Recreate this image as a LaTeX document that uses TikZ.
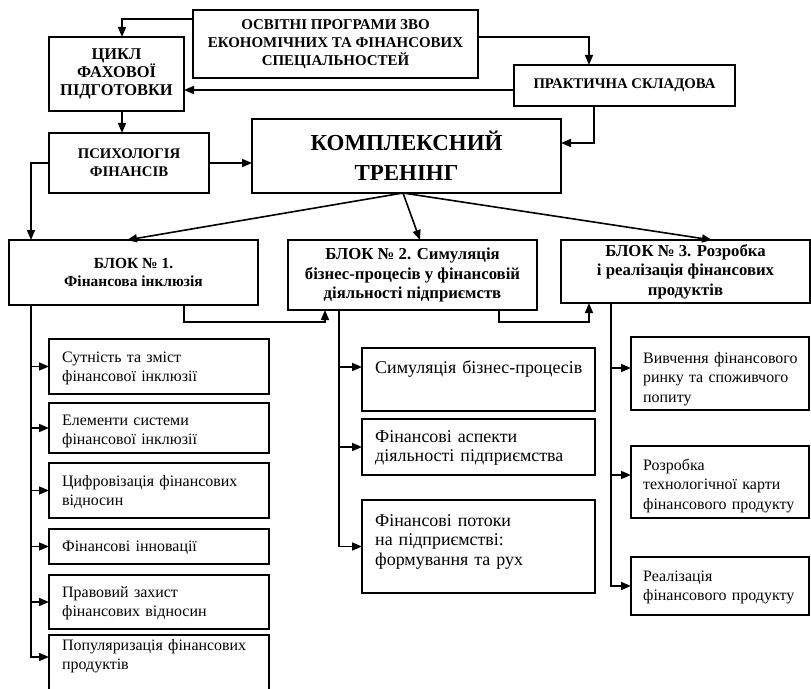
\documentclass[tikz,border=0pt]{standalone}
\usepackage{fontspec}
\setmainfont{Liberation Serif}
\usetikzlibrary{arrows.meta,calc}
\begin{document}
\begin{tikzpicture}[x=1bp,y=-1bp,
  box/.style={draw, line width=2bp, inner sep=0pt, outer sep=0pt, align=center},
  cbox/.style={box, anchor=north west},
  capsA/.style={font=\bfseries\fontsize{14.8}{18}\selectfont},
  capsB/.style={font=\bfseries\fontsize{16.5}{18.2}\selectfont},
  capsT/.style={font=\bfseries\fontsize{15}{18}\selectfont},
  bigf/.style={font=\bfseries\fontsize{23}{30}\selectfont},
  blkA/.style={font=\bfseries\fontsize{15.5}{18}\selectfont},
  blkB/.style={font=\bfseries\fontsize{16.8}{19.5}\selectfont},
  itxt/.style={anchor=base west, inner sep=0pt, align=left, font=\fontsize{16}{20}\selectfont},
  mtxt/.style={itxt, font=\fontsize{18}{20}\selectfont},
  conn/.style={line width=1.6bp},
  arr/.style={conn, -{Triangle[length=10bp,width=8bp]}}
]
\useasboundingbox (0,0) rectangle (811,689);
\clip (0,0) rectangle (811,689);

% upper boxes
\node[box, capsT, minimum width=285bp, minimum height=68bp] (top) at (335.5,44) {ОСВІТНІ ПРОГРАМИ ЗВО\\ЕКОНОМІЧНИХ ТА ФІНАНСОВИХ\\СПЕЦІАЛЬНОСТЕЙ};
\node[box, capsB, minimum width=135bp, minimum height=74bp] (cycle) at (116.5,74) {ЦИКЛ\\ФАХОВОЇ\\ПІДГОТОВКИ};
\node[box, capsA, minimum width=160bp, minimum height=60bp] (psych) at (129,163) {ПСИХОЛОГІЯ\\ФІНАНСІВ};
\node[box, capsA, minimum width=221bp, minimum height=41bp] (prak) at (624.5,85.5) {ПРАКТИЧНА СКЛАДОВА};
\node[box, bigf, minimum width=309bp, minimum height=74bp] (kompl) at (406.5,156) {КОМПЛЕКСНИЙ\\ТРЕНІНГ};

% blocks
\node[box, blkA, minimum width=249bp, minimum height=65bp] (b1) at (133.5,272.5) {БЛОК № 1.\\Фінансова інклюзія};
\node[box, blkB, minimum width=249bp, minimum height=70bp] (b2) at (412.5,275) {БЛОК № 2. Симуляція\\бізнес-процесів у фінансовій\\діяльності підприємств};
\node[box, blkB, minimum width=249bp, minimum height=63bp] (b3) at (685.5,271.5) {БЛОК № 3. Розробка\\і реалізація фінансових\\продуктів};

% block 1 children
\node[cbox, minimum width=220bp, minimum height=55bp] (c11) at (49,339) {};
\node[cbox, minimum width=220bp, minimum height=50bp] (c12) at (49,403) {};
\node[cbox, minimum width=220bp, minimum height=55bp] (c13) at (49,463) {};
\node[cbox, minimum width=220bp, minimum height=35bp] (c14) at (49,529) {};
\node[cbox, minimum width=220bp, minimum height=54bp] (c15) at (49,575) {};
\node[cbox, minimum width=220bp, minimum height=70bp] (c16) at (49,635) {};
\node[itxt, text width=205bp] (c11t) at (62,362) {Сутність та зміст\\фінансової інклюзії};
\node[itxt, text width=205bp] (c12t) at (62,425) {Елементи системи\\фінансової інклюзії};
\node[itxt, text width=205bp] (c13t) at (62,486) {Цифровізація фінансових\\відносин};
\node[itxt, text width=205bp] (c14t) at (62,551) {Фінансові інновації};
\node[itxt, text width=205bp] (c15t) at (62,597) {Правовий захист\\фінансових відносин};
\node[itxt, text width=205bp] (c16t) at (62,650) {Популяризація фінансових\\продуктів};

% block 2 children
\node[cbox, minimum width=233bp, minimum height=63bp] (c21) at (362,348) {};
\node[cbox, minimum width=233bp, minimum height=56bp] (c22) at (362,419) {};
\node[cbox, minimum width=233bp, minimum height=93bp] (c23) at (362,500) {};
\node[mtxt, text width=222bp] (c21t) at (375,373) {Симуляція бізнес-процесів};
\node[mtxt, text width=222bp] (c22t) at (375,442) {Фінансові аспекти\\діяльності підприємства};
\node[mtxt, text width=222bp] (c23t) at (375,526) {Фінансові потоки\\на підприємстві:\\формування та рух};

% block 3 children
\node[cbox, minimum width=178bp, minimum height=73bp] (c31) at (631,337) {};
\node[cbox, minimum width=178bp, minimum height=72bp] (c32) at (631,446) {};
\node[cbox, minimum width=178bp, minimum height=58bp] (c33) at (631,557) {};
\node[itxt, text width=166bp] (c31t) at (643,363) {Вивчення фінансового\\ринку та споживчого\\попиту};
\node[itxt, text width=166bp] (c32t) at (643,470) {Розробка\\технологічної карти\\фінансового продукту};
\node[itxt, text width=166bp] (c33t) at (643,581) {Реалізація\\фінансового продукту};

% upper connectors
\draw[arr] ([yshift=-9bp]top.north west) -| ([xshift=5.5bp]cycle.north);
\draw[arr] ([xshift=5.5bp]cycle.south) -- ([xshift=5.5bp]cycle.south |- psych.north);
\draw[arr] (psych.east) -- (psych.east -| kompl.west);
\draw[arr] ([yshift=7bp]top.east) -| ([xshift=-35.5bp]prak.north);
\draw[arr] ([yshift=-4.5bp]prak.west) -- ([yshift=-4.5bp]prak.west -| cycle.east);
\draw[arr] ([xshift=-30.5bp]prak.south) |- ([yshift=13bp]kompl.east);

\coordinate (t1) at ([xshift=-102.5bp]b1.south);
\draw[arr] (psych.west) -| (t1 |- b1.north);

\coordinate (ks) at ([xshift=-3.5bp]kompl.south);
\draw[arr] (ks) -- ([xshift=-6.5bp]b1.north);
\draw[arr] (ks) -- ([xshift=7.5bp]b2.north);
\draw[arr] (ks) -- ([xshift=26.5bp]b3.north);

% block links
\draw[arr] ([xshift=50.5bp]b1.south) -- ++(0,17) -| ([xshift=-87.5bp]b2.south);
\draw[arr] ([xshift=86.5bp]b2.south) -- ++(0,12) -| ([xshift=-96.5bp]b3.south);

% trunk 1
\coordinate (c16a) at ([yshift=-22bp]c16.north west);
\draw[arr] (t1) |- (c16a);
\draw[arr] (t1 |- c11.west) -- (c11.west);
\draw[arr] (t1 |- c12.west) -- (c12.west);
\draw[arr] (t1 |- c13.west) -- (c13.west);
\draw[arr] (t1 |- c14.west) -- (c14.west);
\draw[arr] (t1 |- c15.west) -- (c15.west);

% trunk 2
\coordinate (t2) at ([xshift=-73.5bp]b2.south);
\coordinate (c21a) at ([yshift=-19bp]c21.north west);
\draw[arr] (t2) |- (c23.west);
\draw[arr] (t2 |- c21a) -- (c21a);
\draw[arr] (t2 |- c22.west) -- (c22.west);

% trunk 3
\coordinate (t3) at ([xshift=-74.5bp]b3.south);
\coordinate (c31a) at ([yshift=-31bp]c31.north west);
\coordinate (c32a) at ([yshift=-29bp]c32.north west);
\draw[arr] (t3) |- (c33.west);
\draw[arr] (t3 |- c31a) -- (c31a);
\draw[arr] (t3 |- c32a) -- (c32a);
\end{tikzpicture}
\end{document}
